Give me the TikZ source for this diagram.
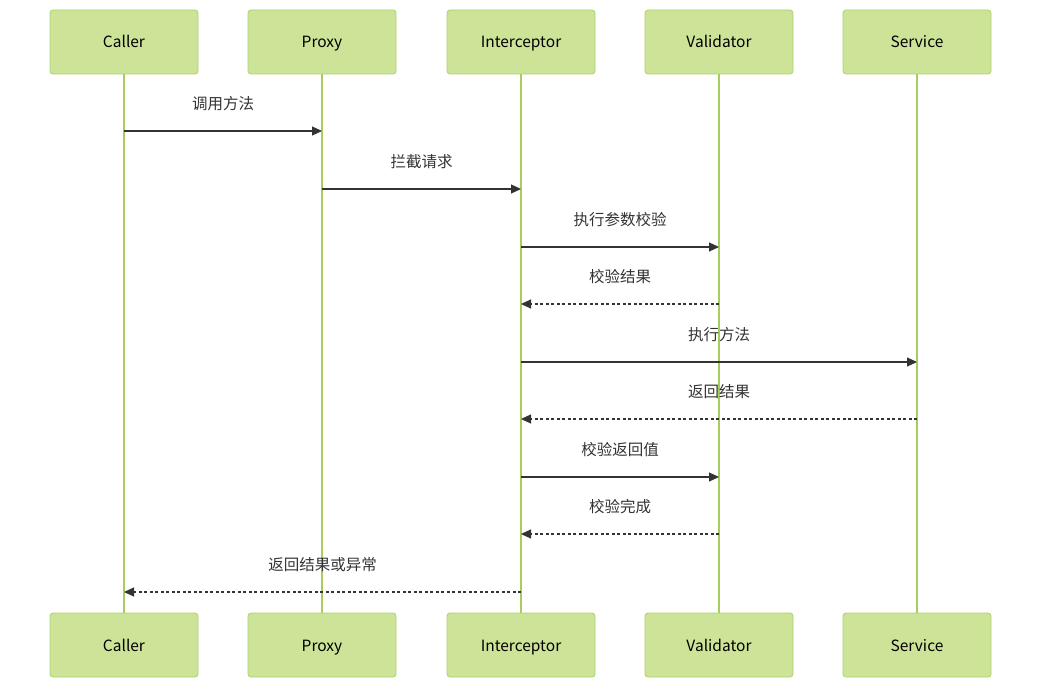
\documentclass[tikz,border=0pt]{standalone}
\usepackage{fontspec}
\setmainfont{Noto Sans CJK SC}
\usetikzlibrary{arrows.meta}
\definecolor{actorfill}{HTML}{CDE498}
\definecolor{actorline}{HTML}{AAD170}
\definecolor{lifecolor}{HTML}{A6CE5C}
\definecolor{msgcolor}{HTML}{333333}
\tikzset{
  actor/.style={draw=actorline, fill=actorfill, line width=0.8pt,
    rounded corners=3pt, minimum width=148pt, minimum height=64pt,
    text height=12pt, text depth=0pt,
    font=\fontsize{15.5}{18}\selectfont, text=black},
  lifeline/.style={draw=lifecolor, line width=2pt},
  msg/.style={draw=msgcolor, line width=1.2pt,
    -{Triangle[length=10pt,width=9pt]}},
  reply/.style={msg, dash pattern=on 3pt off 2.5pt},
  msglabel/.style={font=\fontsize{15.5}{18}\selectfont, text=msgcolor}
}

\begin{document}
\begin{tikzpicture}[x=1pt, y=-1pt]
   \useasboundingbox (0,0) rectangle (1050,693);

   % actors, top and bottom, with their lifelines
   \foreach \name/\title/\x in {caller/Caller/124, proxy/Proxy/322,
        interceptor/Interceptor/521, validator/Validator/719,
        service/Service/917}{
      \node[actor] (\name-top) at (\x,42) {\title};
      \node[actor] (\name-bot) at (\x,645) {\title};
      \draw[lifeline] (\name-top.south) -- (\name-bot.north);
   }

   % messages
   \foreach \from/\to/\y/\kind/\text in {
        caller/proxy/131/msg/调用方法,
        proxy/interceptor/189/msg/拦截请求,
        interceptor/validator/247/msg/执行参数校验,
        validator/interceptor/304/reply/校验结果,
        interceptor/service/362/msg/执行方法,
        service/interceptor/419/reply/返回结果,
        interceptor/validator/477/msg/校验返回值,
        validator/interceptor/534/reply/校验完成,
        interceptor/caller/592/reply/返回结果或异常}{
      \draw[\kind] (\from-top |- 0,\y) -- (\to-top |- 0,\y)
         node[msglabel, midway, yshift=27pt] {\text};
   }

\end{tikzpicture}
\end{document}
